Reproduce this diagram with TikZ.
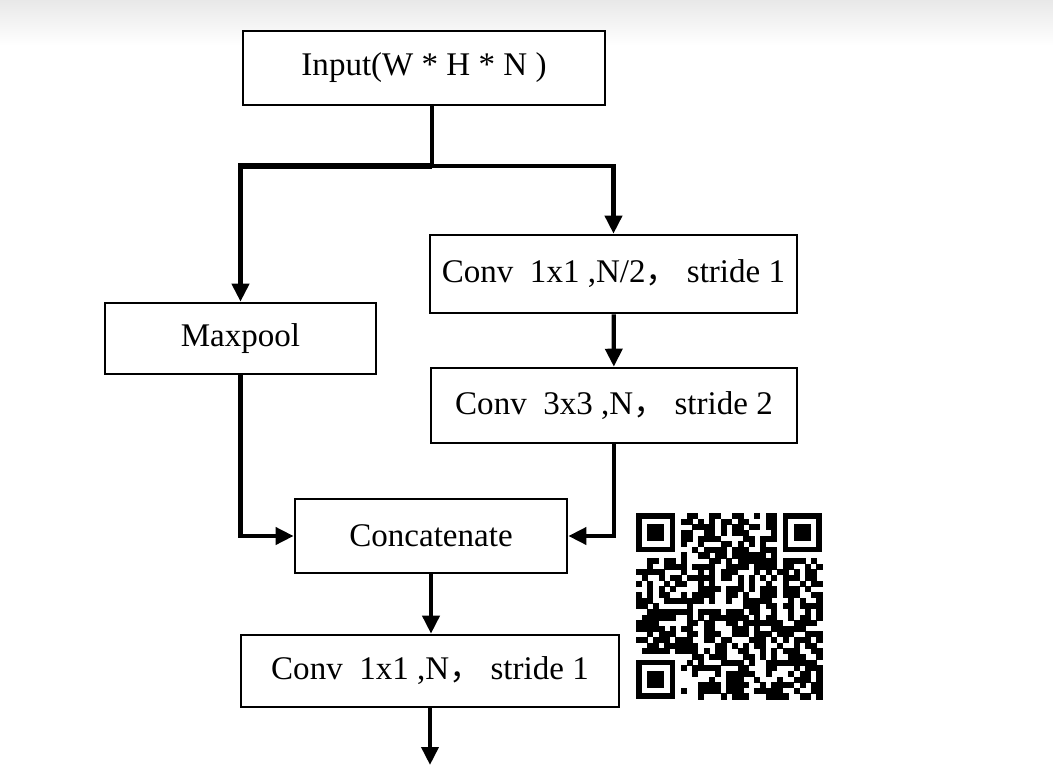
\documentclass[tikz,border=0pt]{standalone}
\usepackage{fontspec}
\setmainfont{Liberation Serif}
\newfontfamily\cjk{Noto Sans CJK SC}
\usetikzlibrary{arrows.meta}

\tikzset{
  block/.style={draw, line width=1.8pt, fill=white, inner sep=0pt, align=center,
    font=\fontsize{23.5}{27}\selectfont},
  flow/.style={line width=3pt, -{Triangle[length=0.45cm,width=0.42cm]}},
  link/.style={line width=3pt}
}

\begin{document}
\begin{tikzpicture}[x=0.025cm, y=-0.025cm]

    % Frame of the picture
    \useasboundingbox (0,0) rectangle (1053,783);
    \fill[white] (0,0) rectangle (1053,783);
    \shade[top color=black!9, bottom color=white] (0,0) rectangle (1053,45);

    % Blocks
    \node[block, minimum width=9.05cm, minimum height=1.85cm] (input) at (424,68) {Input(W * H * N )};
    \node[block, minimum width=6.775cm, minimum height=1.775cm] (maxpool) at (240.5,338.5) {Maxpool};
    \node[block, minimum width=9.175cm, minimum height=1.95cm] (conva) at (613.5,274) {Conv\ \ 1x1 ,N/2{\cjk ，}\ stride 1};
    \node[block, minimum width=9.15cm, minimum height=1.875cm] (convb) at (614,405.5) {Conv\ \ 3x3 ,N{\cjk ，}\ stride 2};
    \node[block, minimum width=6.8cm, minimum height=1.85cm] (concat) at (431,536) {Concatenate};
    \node[block, minimum width=9.45cm, minimum height=1.8cm] (convc) at (430,671) {Conv\ \ 1x1 ,N{\cjk ，}\ stride 1};

    % Split point and output end
    \coordinate (split) at (432,166);
    \coordinate (out) at (430,765);

    % Connectors
    \draw[link] (input.south -| split) -- (split);
    \draw[flow, line width=3.6pt] (split) -| (maxpool.north);
    \draw[flow] (split) -| (conva.north);
    \draw[flow] (conva) -- (convb);
    \draw[flow] (maxpool.south) |- (concat.west);
    \draw[flow] (convb.south) |- (concat.east);
    \draw[flow] (concat.south) -- (concat.south |- convc.north);
    \draw[flow] (convc.south) -- (out);

    % QR code
    \def\qrx{636}
    \def\qry{513}
    \def\qrm{5.64}
    \foreach \fx/\fy in {0/0, 26/0, 0/26} {
        \fill[black] (\qrx+\fx*\qrm, \qry+\fy*\qrm) rectangle +(7*\qrm, 7*\qrm);
        \fill[white] (\qrx+\fx*\qrm+\qrm, \qry+\fy*\qrm+\qrm) rectangle +(5*\qrm, 5*\qrm);
        \fill[black] (\qrx+\fx*\qrm+2*\qrm, \qry+\fy*\qrm+2*\qrm) rectangle +(3*\qrm, 3*\qrm);
    }
    \pgfmathsetseed{11}
    \foreach \i in {0,...,32} {
        \foreach \j in {0,...,32} {
            \pgfmathtruncatemacro\qrskip{(\i<8 && \j<8) || (\i>24 && \j<8) || (\i<8 && \j>24)}
            \ifnum\qrskip=0
                \pgfmathtruncatemacro\qrbit{rnd<0.55}
                \ifnum\qrbit=1
                    \fill[black] (\qrx+\i*\qrm, \qry+\j*\qrm) rectangle +(\qrm+0.4, \qrm+0.4);
                \fi
            \fi
        }
    }

\end{tikzpicture}
\end{document}
